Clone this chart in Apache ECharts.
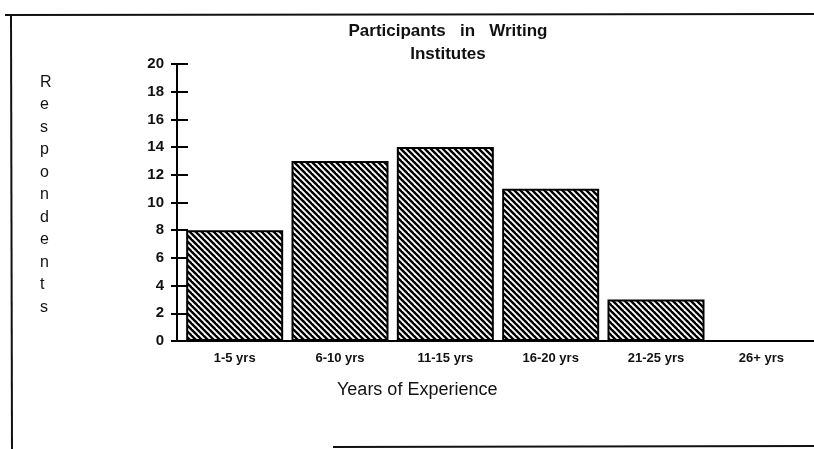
<!DOCTYPE html>
<html>
<head>
<meta charset="utf-8">
<script src="https://cdn.jsdelivr.net/npm/echarts@6/dist/echarts.min.js"></script>
<style>
  html, body { margin: 0; padding: 0; background: #fff; }
  #main { width: 814px; height: 449px; }
</style>
</head>
<body>
<div id="main"></div>
<script>
// years of experience vs number of respondents
var categories = ['1-5 yrs', '6-10 yrs', '11-15 yrs', '16-20 yrs', '21-25 yrs', '26+ yrs'];
var respondents = [8, 13, 14, 11, 3, 0];
var yTicks = [0, 2, 4, 6, 8, 10, 12, 14, 16, 18, 20];

// hatch pattern, lines going down to the right
var hatch = document.createElement('canvas');
hatch.width = 6;
hatch.height = 6;
var ctx = hatch.getContext('2d');
ctx.fillStyle = '#fff';
ctx.fillRect(0, 0, 6, 6);
ctx.strokeStyle = '#000';
ctx.lineWidth = 2.4;
[-6, 0, 6].forEach(function (o) {
  ctx.beginPath();
  ctx.moveTo(o - 1, -1);
  ctx.lineTo(o + 7, 7);
  ctx.stroke();
});

var myChart = echarts.init(document.getElementById('main'));

var font = 'Liberation Sans, Arial, sans-serif';

var option = {
  backgroundColor: '#fff',
  animation: false,
  title: {
    text: 'Participants   in   Writing\nInstitutes',
    left: 443,
    top: 15,
    textAlign: 'center',
    textStyle: {
      fontFamily: font,
      fontSize: 17,
      fontWeight: 'bold',
      color: '#111',
      lineHeight: 23
    }
  },
  grid: { left: 182, right: 0, top: 64, bottom: 108 },
  xAxis: {
    type: 'category',
    data: categories,
    axisLine: { lineStyle: { color: '#000', width: 2 } },
    axisTick: { alignWithLabel: true, length: 6, lineStyle: { color: '#000', width: 1.5 } },
    axisLabel: {
      margin: 11,
      fontFamily: font,
      fontSize: 13,
      fontWeight: 'bold',
      color: '#111'
    }
  },
  yAxis: [
    {
      type: 'value',
      min: 0,
      max: 20,
      interval: 2,
      offset: 5,
      splitLine: { show: false },
      axisLine: { show: true, lineStyle: { color: '#000', width: 2 } },
      axisTick: { show: true, length: 6, lineStyle: { color: '#000', width: 2 } },
      axisLabel: {
        margin: 13,
        fontFamily: font,
        fontSize: 15,
        fontWeight: 'bold',
        color: '#111',
        formatter: function (v) { return yTicks.indexOf(v) >= 0 ? String(v) : ''; }
      }
    },
    {
      type: 'value',
      min: 0,
      max: 20,
      interval: 2,
      offset: 5,
      position: 'left',
      splitLine: { show: false },
      axisLine: { show: false },
      axisTick: { show: true, inside: true, length: 11, lineStyle: { color: '#000', width: 2 } },
      axisLabel: { show: false }
    }
  ],
  graphic: [
    // scanned page border
    { type: 'line', shape: { x1: 5, y1: 15, x2: 814, y2: 14 }, style: { stroke: '#111', lineWidth: 2 } },
    { type: 'line', shape: { x1: 11, y1: 15, x2: 12, y2: 449 }, style: { stroke: '#111', lineWidth: 2 } },
    { type: 'line', shape: { x1: 333, y1: 447, x2: 814, y2: 446 }, style: { stroke: '#111', lineWidth: 2 } },
    {
      type: 'text',
      left: 40,
      top: 71,
      style: {
        text: 'R\ne\ns\np\no\nn\nd\ne\nn\nt\ns',
        fontFamily: font,
        fontSize: 16,
        lineHeight: 22.5,
        align: 'center',
        fill: '#111'
      }
    },
    {
      type: 'text',
      left: 337,
      top: 381,
      style: {
        text: 'Years of Experience',
        fontFamily: font,
        fontSize: 18,
        fill: '#111'
      }
    }
  ],
  series: [
    {
      type: 'bar',
      data: respondents,
      barWidth: 97,
      itemStyle: {
        color: { image: hatch, repeat: 'repeat' },
        borderColor: '#000',
        borderWidth: 2
      }
    }
  ]
};

myChart.setOption(option);
</script>
</body>
</html>
